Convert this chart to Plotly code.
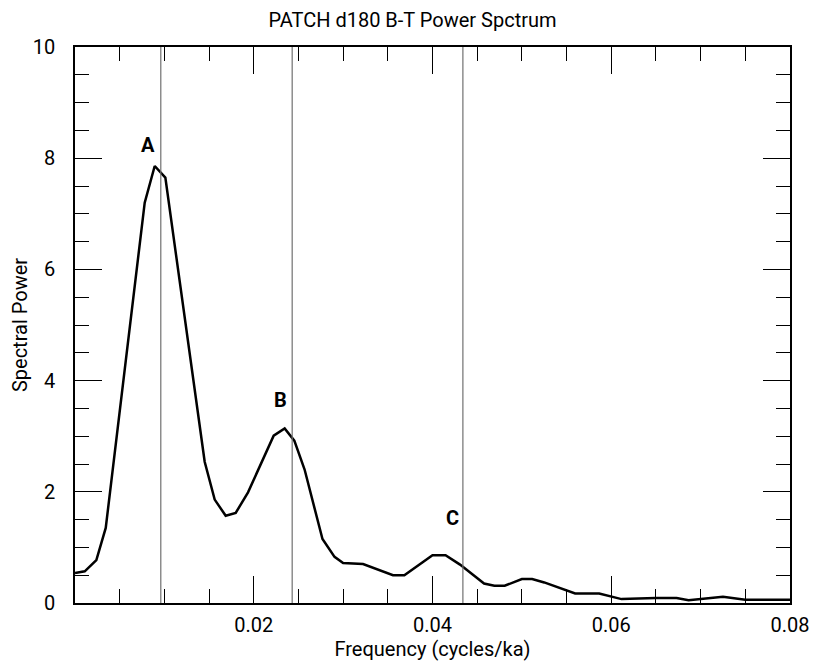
import plotly.graph_objects as go

# Spectrum
freq = [0.0, 0.00109, 0.00239, 0.00344, 0.0078, 0.00892, 0.01011, 0.01451,
        0.01563, 0.01686, 0.01798, 0.01936, 0.02223, 0.02346, 0.02454,
        0.02569, 0.02769, 0.02904, 0.0300, 0.03223, 0.03558, 0.03685,
        0.0400, 0.04146, 0.04308, 0.04577, 0.04692, 0.04808, 0.0500,
        0.05115, 0.0525, 0.05596, 0.05865, 0.06115, 0.0650, 0.06731,
        0.06865, 0.0725, 0.0750, 0.0800]
power = [0.54, 0.57, 0.77, 1.35, 7.20, 7.86, 7.65, 2.54,
         1.86, 1.57, 1.62, 1.99, 3.01, 3.14, 2.92,
         2.40, 1.15, 0.83, 0.72, 0.70, 0.50, 0.50,
         0.86, 0.86, 0.69, 0.35, 0.31, 0.31, 0.43,
         0.43, 0.37, 0.17, 0.17, 0.07, 0.09, 0.09,
         0.05, 0.11, 0.06, 0.06]

# Orbital bands marked with vertical lines
band_freq = [0.0096, 0.0243, 0.0434]

# Peak labels
peak_names = ["A", "B", "C"]
peak_x = [0.0082, 0.0230, 0.0422]
peak_y = [8.23, 3.65, 1.53]

xticks = [0.02, 0.04, 0.06, 0.08]
yticks = [0, 2, 4, 6, 8, 10]
xrange_ = [0, 0.08]
yrange_ = [0, 10]

fig = go.Figure()

fig.add_trace(go.Scatter(x=freq, y=power, mode="lines",
                         line=dict(color="black", width=2.5),
                         showlegend=False, hoverinfo="skip"))

# empty trace so the tick-only overlay axes get drawn
fig.add_trace(go.Scatter(x=[None], y=[None], xaxis="x2", yaxis="y2",
                         showlegend=False, hoverinfo="skip"))

for f in band_freq:
    fig.add_vline(x=f, line=dict(color="#707070", width=1.2))

for name, px_, py_ in zip(peak_names, peak_x, peak_y):
    fig.add_annotation(x=px_, y=py_, text="<b>" + name + "</b>", showarrow=False,
                       font=dict(size=20, color="black", family="Roboto"))

# labelled axes: frame + labels, no tick marks
frame = dict(showgrid=False, zeroline=False, showline=True, linecolor="black",
             linewidth=1.5, mirror=True, ticks="", automargin=False,
             tickfont=dict(size=20, color="black"))

# overlay axes carrying the inside tick marks on all four sides
ticks_only = dict(showgrid=False, zeroline=False, showline=False,
                  showticklabels=False, ticks="inside", mirror="ticks",
                  automargin=False, tickcolor="black", tickwidth=1.3, ticklen=27)

fig.update_layout(
    xaxis=dict(range=[xrange_[0], xrange_[1] + 1e-9], tickvals=xticks,
               ticktext=[str(v) for v in xticks], ticklabelstandoff=3,
               title=dict(text="Frequency (cycles/ka)",
                          font=dict(size=20, color="black"), standoff=3),
               **frame),
    yaxis=dict(range=[yrange_[0], yrange_[1] + 1e-9], tickvals=yticks,
               ticklabelstandoff=14,
               title=dict(text="Spectral Power",
                          font=dict(size=20, color="black"), standoff=2),
               **frame),
    xaxis2=dict(overlaying="x", anchor="y2", range=xrange_, tick0=0, dtick=0.02,
                minor=dict(ticks="inside", ticklen=14, dtick=0.005, tick0=0,
                           tickcolor="black", tickwidth=1.3),
                **ticks_only),
    yaxis2=dict(overlaying="y", anchor="x2", range=yrange_, tick0=0, dtick=2,
                minor=dict(ticks="inside", ticklen=14, dtick=0.5, tick0=0,
                           tickcolor="black", tickwidth=1.3),
                **ticks_only),
    width=809, height=656,
    margin=dict(l=67, r=27, t=39, b=61),
    plot_bgcolor="white", paper_bgcolor="white",
    font=dict(family="Roboto", color="black"),
    title=dict(text="PATCH d180 B-T Power Spctrum", x=0.5, xanchor="center",
               y=1 - 12 / 656, yanchor="middle", font=dict(size=20, color="black")),
)

fig.write_html("out.html")
